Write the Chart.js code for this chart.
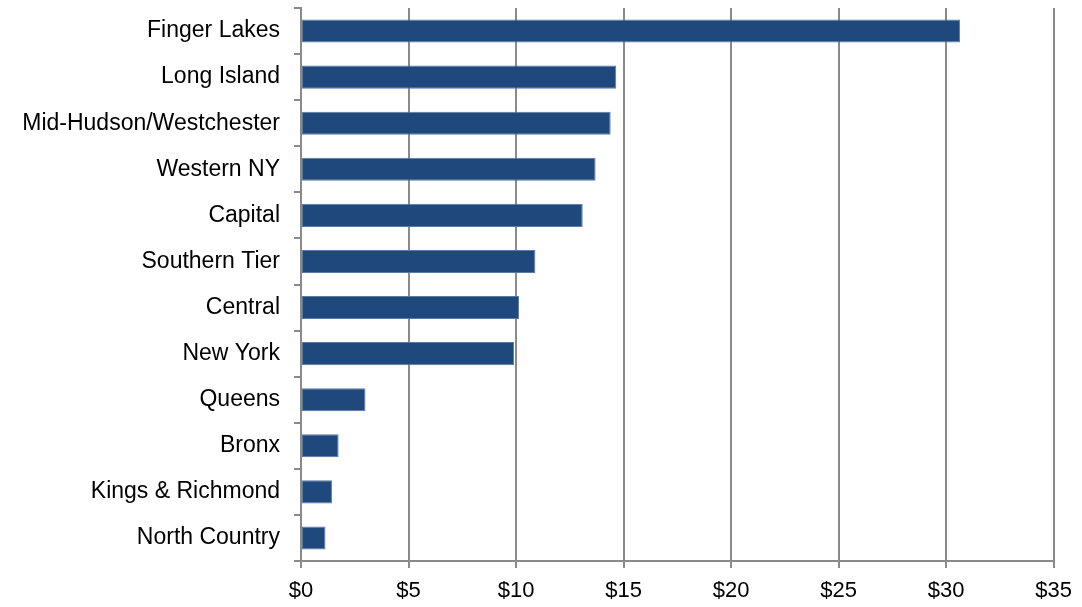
<!DOCTYPE html>
<html>
<head>
<meta charset="utf-8">
<title>Regions</title>
<script src="https://cdn.jsdelivr.net/npm/chart.js@4/dist/chart.umd.min.js"></script>
<style>
    html, body { margin: 0; padding: 0; background: #fff; }
    #wrap { width: 1082px; height: 607px; }
</style>
</head>
<body>
<div id="wrap"><canvas id="regionChart" width="1082" height="607"></canvas></div>
<script>
// regions, top to bottom
const regions = [
    "Finger Lakes", "Long Island", "Mid-Hudson/Westchester", "Western NY",
    "Capital", "Southern Tier", "Central", "New York",
    "Queens", "Bronx", "Kings & Richmond", "North Country"
];
// dollar amount per region
const amounts = [30.65, 14.66, 14.40, 13.70, 13.10, 10.90, 10.14, 9.91, 3.00, 1.75, 1.44, 1.14];
// x axis ticks
const xTicks = [0, 5, 10, 15, 20, 25, 30, 35];

(function () {
    'use strict';

    const gray = "#8a8a8a";
    const family = "'Liberation Sans', Arial, sans-serif";

    const ctx = document.getElementById("regionChart");
    new Chart(ctx, {
        type: "bar",
        data: {
            labels: regions,
            datasets: [{
                data: amounts,
                backgroundColor: "#1f497d",
                borderColor: "#5a7aa3",
                borderWidth: 1,
                borderSkipped: false,
                barPercentage: 0.5,
                categoryPercentage: 1.0
            }]
        },
        options: {
            indexAxis: "y",
            responsive: false,
            animation: false,
            layout: { padding: { top: 8, right: 25, left: 0, bottom: 0 } },
            plugins: { legend: { display: false }, tooltip: { enabled: false } },
            scales: {
                x: {
                    min: xTicks[0],
                    max: xTicks[xTicks.length - 1],
                    afterBuildTicks: s => { s.ticks = xTicks.map(v => ({ value: v })); },
                    afterFit: s => { s.height = 46; },
                    grid: { color: gray, lineWidth: 2, tickLength: 7, drawTicks: true },
                    border: { color: gray, width: 2 },
                    ticks: {
                        color: "#000",
                        font: { family: family, size: 22 },
                        padding: 10,
                        maxRotation: 0,
                        callback: v => "$" + v
                    }
                },
                y: {
                    // category labels sit mid-band, so no extra room is needed above/below
                    afterFit: s => { s.width = 301; s.paddingTop = 0; s.paddingBottom = 0; },
                    grid: { offset: true, drawOnChartArea: false, drawTicks: true, tickLength: 7, color: gray, lineWidth: 2 },
                    border: { color: gray, width: 2 },
                    ticks: { color: "#000", font: { family: family, size: 23 }, padding: 14, autoSkip: false }
                }
            }
        }
    });
})();
</script>
</body>
</html>
